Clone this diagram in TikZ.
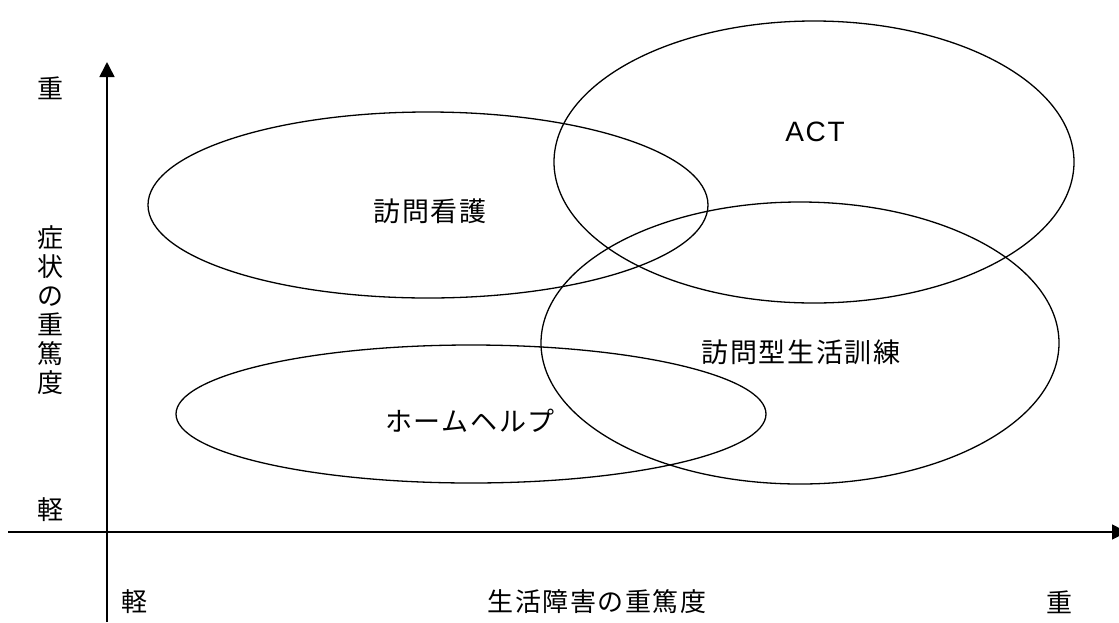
\documentclass[tikz,border=0pt]{standalone}
\usepackage{fontspec}
\usetikzlibrary{arrows.meta,shapes.geometric}
\newfontfamily\jpfont{Noto Sans CJK JP}[LetterSpace=6]
\newfontfamily\latinsans{Liberation Sans}[LetterSpace=6]
\begin{document}
\begin{tikzpicture}[x=1pt,y=-1pt,
  axis/.style={line width=1.6pt,-{Triangle[length=15pt,width=15pt]}},
  oval/.style={ellipse,draw,line width=1.3pt,inner sep=0pt},
  lbl/.style={font=\jpfont\fontsize{26}{29}\selectfont,inner sep=0pt,align=center},
  inlbl/.style={font=\jpfont\fontsize{27}{29}\selectfont,inner sep=0pt,align=center},
  acttext/.style={font=\latinsans\fontsize{28}{30}\selectfont,inner sep=0pt}]
\useasboundingbox (0,0) rectangle (1119,622);
% axes
\coordinate (yb) at (107,622);
\coordinate (yt) at (107,62);
\coordinate (xl) at (8,532);
\coordinate (xr) at (1127,532);
\draw[axis] (yb) -- (yt);
\draw[axis] (xl) -- (xr);
% ellipses
\node[oval,minimum width=560pt,minimum height=186pt] (kango) at (428,205) {};
\node[oval,minimum width=520pt,minimum height=282pt] (act) at (814,162) {};
\node[oval,minimum width=518pt,minimum height=282pt] (seikatsu) at (800,343) {};
\node[oval,minimum width=590pt,minimum height=138pt] (home) at (471,414) {};
% texts
\node[inlbl] (tkango) at (430,211) {訪問看護};
\node[acttext] (tact) at (815,132) {ACT};
\node[inlbl] (tseikatsu) at (801,352) {訪問型生活訓練};
\node[inlbl] (thome) at (470,421) {ホームヘルプ};
% axis labels
\node[lbl] (yhigh) at (50,88) {重};
\node[lbl] (ylow) at (50,510) {軽};
\node[lbl] (ytitle) at (50,310) {症\\状\\の\\重\\篤\\度};
\node[lbl] (xlow) at (134,602) {軽};
\node[lbl] (xtitle) at (597,602) {生活障害の重篤度};
\node[lbl] (xhigh) at (1059,602) {重};
\end{tikzpicture}
\end{document}
